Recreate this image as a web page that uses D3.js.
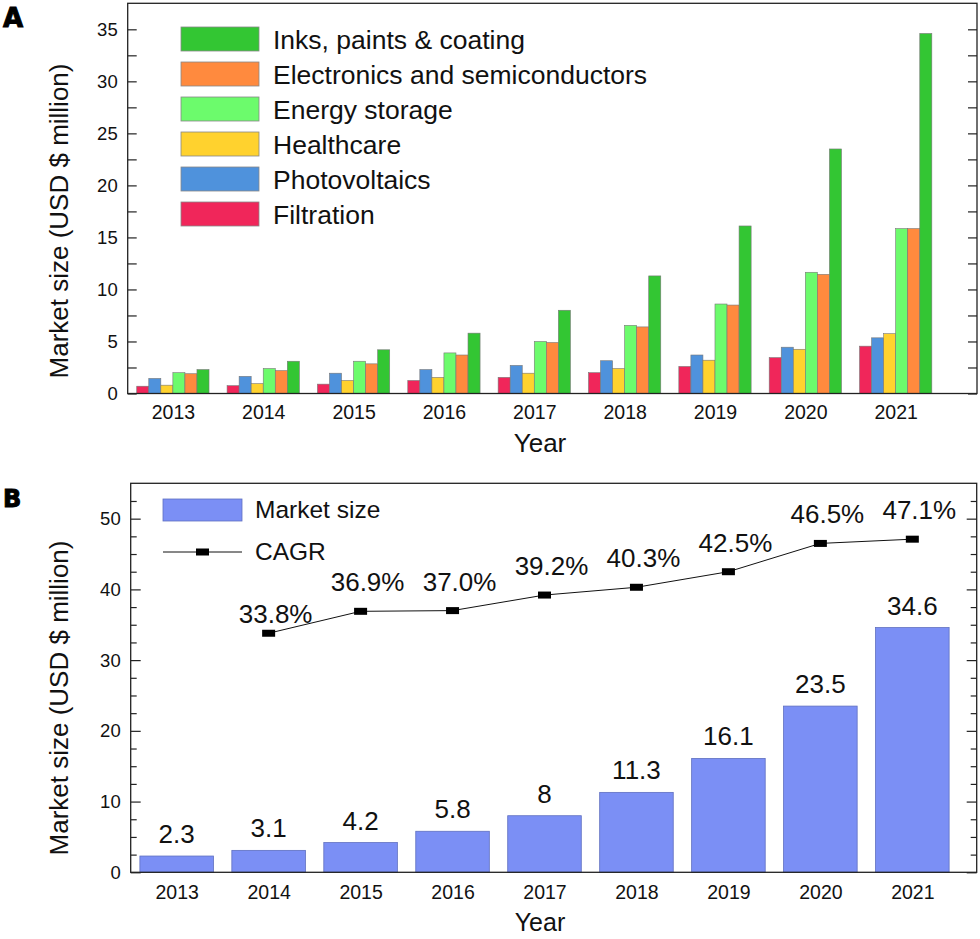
<!DOCTYPE html>
<html>
<head>
<meta charset="utf-8">
<script src="https://cdn.jsdelivr.net/npm/d3@7"></script>
<style>
  body { margin: 0; background: #fff; }
  svg { display: block; font-family: "Liberation Sans", Arial, sans-serif; }
</style>
</head>
<body>
<svg id="chart" width="980" height="939"></svg>
<script>
// ---- data ----
var years = [2013, 2014, 2015, 2016, 2017, 2018, 2019, 2020, 2021];

var seriesNames = ["Filtration", "Photovoltaics", "Healthcare", "Energy storage",
                   "Electronics and semiconductors", "Inks, paints & coating"];
var filtration    = [0.7, 0.75, 0.9, 1.25, 1.55, 2.0, 2.6, 3.45, 4.55];
var photovoltaics = [1.45, 1.65, 1.95, 2.3, 2.7, 3.15, 3.7, 4.45, 5.35];
var healthcare    = [0.8, 0.95, 1.25, 1.55, 1.95, 2.4, 3.2, 4.25, 5.75];
var energyStorage = [2.0, 2.4, 3.1, 3.9, 5.0, 6.55, 8.6, 11.65, 15.85];
var electronics   = [1.9, 2.2, 2.85, 3.7, 4.9, 6.4, 8.5, 11.45, 15.85];
var inks          = [2.3, 3.1, 4.2, 5.8, 8.0, 11.3, 16.1, 23.5, 34.6];

var marketSize = [2.3, 3.1, 4.2, 5.8, 8, 11.3, 16.1, 23.5, 34.6];
var cagrYears  = [2014, 2015, 2016, 2017, 2018, 2019, 2020, 2021];
var cagr       = [33.8, 36.9, 37.0, 39.2, 40.3, 42.5, 46.5, 47.1];

var ticksA = [0, 5, 10, 15, 20, 25, 30, 35];
var minorA = [2.5, 7.5, 12.5, 17.5, 22.5, 27.5, 32.5];
var ticksB = [0, 10, 20, 30, 40, 50];
var minorB = [2.5, 5, 7.5, 12.5, 15, 17.5, 22.5, 25, 27.5, 32.5, 35, 37.5, 42.5, 45, 47.5, 52.5];

var series = [filtration, photovoltaics, healthcare, energyStorage, electronics, inks];
var colors = ["#f0265a", "#4f92dc", "#ffd22e", "#6cfb6c", "#ff8a3e", "#33c633"];

var svg = d3.select("#chart");

function styleAxis(g, size) {
  g.select(".domain").remove();
  g.selectAll("line").attr("stroke", "#222").attr("stroke-width", 1.2);
  g.selectAll("text").attr("fill", "#111").style("font-size", size + "px")
    .style("font-family", "Liberation Sans, Arial, sans-serif");
}

// ================= panel A =================
var A = { left: 127.7, right: 977, top: 3.3, bottom: 393.5 };
var xA = d3.scaleLinear().domain([2012.5, 2021.9]).range([A.left, A.right]);
var yA = d3.scaleLinear().domain([0, 37.5]).range([A.bottom, A.top]);
var gA = svg.append("g");

var groupW = 0.8, barW = groupW / series.length;
series.forEach(function (vals, s) {
  gA.selectAll(".barA" + s).data(vals).enter().append("rect")
    .attr("x", function (d, i) { return xA(years[i] - groupW / 2 + s * barW); })
    .attr("width", xA(2013 + barW) - xA(2013))
    .attr("y", function (d) { return yA(d); })
    .attr("height", function (d) { return yA(0) - yA(d); })
    .style("fill", colors[s])
    .style("stroke", "#777")
    .style("stroke-width", 0.6);
});

gA.append("g").attr("transform", "translate(" + A.left + ",0)")
  .call(d3.axisLeft(yA).tickValues(ticksA).tickSize(-9).tickPadding(10).tickFormat(d3.format("d")))
  .call(styleAxis, 18.5);
gA.append("g").attr("transform", "translate(" + A.left + ",0)")
  .call(d3.axisLeft(yA).tickValues(minorA).tickSize(-9).tickFormat(""))
  .call(styleAxis, 18.5);
gA.append("g").attr("transform", "translate(" + A.right + ",0)")
  .call(d3.axisRight(yA).tickValues(ticksA.concat(minorA)).tickSize(-9).tickFormat(""))
  .call(styleAxis, 18.5);
gA.append("g").attr("transform", "translate(0," + A.bottom + ")")
  .call(d3.axisBottom(xA).tickValues(years).tickSize(0).tickPadding(12).tickFormat(d3.format("d")))
  .call(styleAxis, 19.5);

gA.append("rect").attr("x", A.left).attr("y", A.top)
  .attr("width", A.right - A.left).attr("height", A.bottom - A.top)
  .style("fill", "none").style("stroke", "#222").style("stroke-width", 1.3);

// legend A (reversed order)
var legA = gA.append("g");
seriesNames.slice().reverse().forEach(function (name, k) {
  var s = seriesNames.length - 1 - k;
  var cy = 39 + k * 35;
  legA.append("rect").attr("x", 181).attr("y", cy - 12).attr("width", 78).attr("height", 24)
    .style("fill", colors[s]).style("stroke", "#888").style("stroke-width", 0.8);
  legA.append("text").attr("x", 273).attr("y", cy + 9.5).text(name)
    .style("font-size", "26.5px").style("fill", "#111");
});

gA.append("text").attr("transform", "translate(68,221) rotate(-90)")
  .attr("text-anchor", "middle").text("Market size (USD $ million)")
  .style("font-size", "26px").style("fill", "#111");
gA.append("text").attr("x", 540).attr("y", 452).attr("text-anchor", "middle").text("Year")
  .style("font-size", "26px").style("fill", "#111");
svg.append("text").attr("x", 3).attr("y", 27).text("A")
  .style("font-family", "DejaVu Sans").style("font-weight", "bold").style("font-size", "26px")
  .style("stroke", "#000").style("stroke-width", 1);

// ================= panel B =================
var B = { left: 130.7, right: 976.7, top: 483.3, bottom: 872.3 };
var xB = d3.scaleLinear().domain([2012.5, 2021.7]).range([B.left, B.right]);
var yB = d3.scaleLinear().domain([0, 55]).range([B.bottom, B.top]);
var gB = svg.append("g");

var bW = 0.8;
gB.selectAll(".barB").data(marketSize).enter().append("rect")
  .attr("x", function (d, i) { return xB(years[i] - bW / 2); })
  .attr("width", xB(2013 + bW) - xB(2013))
  .attr("y", function (d) { return yB(d); })
  .attr("height", function (d) { return yB(0) - yB(d); })
  .style("fill", "#7b8ff5").style("stroke", "#5f6fc0").style("stroke-width", 0.8);

gB.selectAll(".barLbl").data(marketSize).enter().append("text")
  .attr("x", function (d, i) { return xB(years[i]); })
  .attr("y", function (d) { return yB(d) - 13; })
  .attr("text-anchor", "middle").text(function (d) { return String(d); })
  .style("font-size", "26px").style("fill", "#111");

var line = d3.line().x(function (d, i) { return xB(cagrYears[i]); }).y(function (d) { return yB(d); });
gB.append("path").datum(cagr).attr("d", line)
  .style("fill", "none").style("stroke", "#111").style("stroke-width", 1);
gB.selectAll(".mk").data(cagr).enter().append("rect")
  .attr("x", function (d, i) { return xB(cagrYears[i]) - 6.5; })
  .attr("y", function (d) { return yB(d) - 3.5; })
  .attr("width", 13).attr("height", 7).style("fill", "#000");
gB.selectAll(".cagrLbl").data(cagr).enter().append("text")
  .attr("x", function (d, i) { return xB(cagrYears[i]) + 7; })
  .attr("y", function (d, i) { return yB(d) - (i === 0 ? 10 : 20); })
  .attr("text-anchor", "middle").text(function (d) { return d.toFixed(1) + "%"; })
  .style("font-size", "26px").style("fill", "#111");

gB.append("g").attr("transform", "translate(" + B.left + ",0)")
  .call(d3.axisLeft(yB).tickValues(ticksB).tickSize(-10).tickPadding(10).tickFormat(d3.format("d")))
  .call(styleAxis, 18.5);
gB.append("g").attr("transform", "translate(" + B.left + ",0)")
  .call(d3.axisLeft(yB).tickValues(minorB).tickSize(-6).tickFormat(""))
  .call(styleAxis, 18.5);
gB.append("g").attr("transform", "translate(" + B.right + ",0)")
  .call(d3.axisRight(yB).tickValues(ticksB).tickSize(-10).tickFormat(""))
  .call(styleAxis, 18.5);
gB.append("g").attr("transform", "translate(" + B.right + ",0)")
  .call(d3.axisRight(yB).tickValues(minorB).tickSize(-6).tickFormat(""))
  .call(styleAxis, 18.5);
gB.append("g").attr("transform", "translate(0," + B.bottom + ")")
  .call(d3.axisBottom(xB).tickValues(years).tickSize(0).tickPadding(13).tickFormat(d3.format("d")))
  .call(styleAxis, 19.5);

gB.append("rect").attr("x", B.left).attr("y", B.top)
  .attr("width", B.right - B.left).attr("height", B.bottom - B.top)
  .style("fill", "none").style("stroke", "#222").style("stroke-width", 1.3);

// legend B
gB.append("rect").attr("x", 163).attr("y", 499).attr("width", 79).attr("height", 22)
  .style("fill", "#7b8ff5").style("stroke", "#5f6fc0").style("stroke-width", 0.8);
gB.append("text").attr("x", 255).attr("y", 517.5).text("Market size")
  .style("font-size", "24.5px").style("fill", "#111");
gB.append("line").attr("x1", 163).attr("x2", 242).attr("y1", 552).attr("y2", 552)
  .style("stroke", "#111").style("stroke-width", 1);
gB.append("rect").attr("x", 196).attr("y", 548.5).attr("width", 13).attr("height", 7).style("fill", "#000");
gB.append("text").attr("x", 255).attr("y", 560).text("CAGR")
  .style("font-size", "24.5px").style("fill", "#111");

gB.append("text").attr("transform", "translate(68,698) rotate(-90)")
  .attr("text-anchor", "middle").text("Market size (USD $ million)")
  .style("font-size", "26px").style("fill", "#111");
gB.append("text").attr("x", 540).attr("y", 931).attr("text-anchor", "middle").text("Year")
  .style("font-size", "25px").style("fill", "#111");
svg.append("text").attr("x", 3).attr("y", 507).text("B")
  .style("font-family", "DejaVu Sans").style("font-weight", "bold").style("font-size", "24px")
  .style("stroke", "#000").style("stroke-width", 1);
</script>
</body>
</html>
